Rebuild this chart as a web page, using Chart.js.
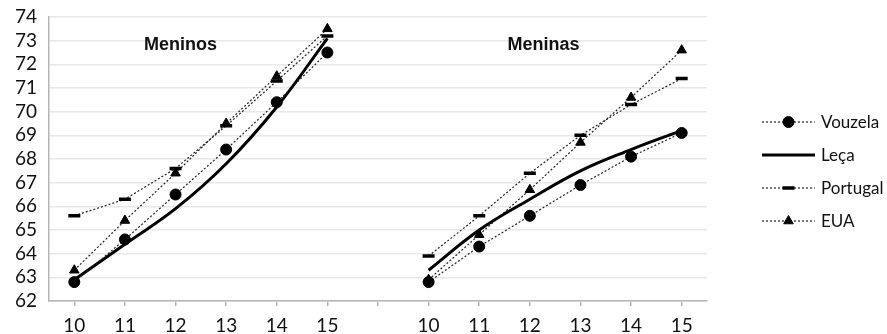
<!DOCTYPE html>
<html>
<head>
<meta charset="utf-8">
<script src="https://cdn.jsdelivr.net/npm/chart.js@4.4.1/dist/chart.umd.min.js"></script>
<style>
  html, body { margin: 0; padding: 0; background: #fff; }
  #wrap { width: 887px; height: 334px; }
</style>
</head>
<body>
<div id="wrap"><canvas id="myChart" width="887" height="334"></canvas></div>
<script>
(function () {
    "use strict";

    // idades (10 a 15) para meninos, um espaço vazio, e meninas
    var idades = ['10', '11', '12', '13', '14', '15', '', '10', '11', '12', '13', '14', '15'];

    var meninosVouzela = [62.8, 64.6, 66.5, 68.4, 70.4, 72.5];
    var meninosLeca = [62.9, 64.4, 65.9, 67.8, 70.2, 73.1];
    var meninosPortugal = [65.6, 66.3, 67.6, 69.4, 71.3, 73.2];
    var meninosEUA = [63.3, 65.4, 67.4, 69.5, 71.5, 73.5];

    var meninasVouzela = [62.8, 64.3, 65.6, 66.9, 68.1, 69.1];
    var meninasLeca = [63.3, 65.0, 66.3, 67.5, 68.4, 69.2];
    var meninasPortugal = [63.9, 65.6, 67.4, 69.0, 70.3, 71.4];
    var meninasEUA = [62.9, 64.8, 66.7, 68.7, 70.6, 72.6];

    var yTicks = [62, 63, 64, 65, 66, 67, 68, 69, 70, 71, 72, 73, 74];

    var grupos = ['Meninos', 'Meninas'];

    function juntar(a, b) {
        return a.concat([null], b);
    }

    var fonte = 'Lato, "Open Sans", sans-serif';

    // títulos dentro da área do gráfico
    var titulos = {
        id: 'titulos',
        afterDatasetsDraw: function (chart) {
            var ctx = chart.ctx;
            var x = chart.scales.x, y = chart.scales.y;
            ctx.save();
            ctx.font = 'bold 18px "Liberation Sans", Arial, sans-serif';
            ctx.fillStyle = '#111';
            ctx.textAlign = 'center';
            ctx.textBaseline = 'middle';
            ctx.fillText(grupos[0], x.getPixelForValue(2.1), y.getPixelForValue(72.82));
            ctx.fillText(grupos[1], x.getPixelForValue(9.27), y.getPixelForValue(72.82));
            ctx.restore();
        }
    };

    // legenda à direita: linha com o marcador ao meio
    var legenda = {
        id: 'legenda',
        afterDraw: function (chart) {
            var ctx = chart.ctx;
            var area = chart.chartArea;
            var x0 = area.right + 55, x1 = area.right + 108;
            var top = 122, step = 33;
            ctx.save();
            chart.data.datasets.forEach(function (ds, i) {
                var yy = top + i * step;
                ctx.beginPath();
                ctx.setLineDash(ds.borderDash || []);
                ctx.lineWidth = ds.borderWidth;
                ctx.strokeStyle = ds.borderColor;
                ctx.moveTo(x0, yy);
                ctx.lineTo(x1, yy);
                ctx.stroke();
                ctx.setLineDash([]);
                if (ds.pointRadius > 0) {
                    ctx.fillStyle = ds.pointBackgroundColor;
                    ctx.strokeStyle = ds.pointBorderColor;
                    ctx.lineWidth = ds.pointBorderWidth;
                    Chart.helpers.drawPoint(ctx, {
                        pointStyle: ds.pointStyle,
                        radius: ds.pointRadius,
                        rotation: 0,
                        borderWidth: ds.pointBorderWidth
                    }, (x0 + x1) / 2, yy);
                }
                ctx.font = '17px ' + fonte;
                ctx.fillStyle = '#111';
                ctx.textAlign = 'left';
                ctx.textBaseline = 'middle';
                ctx.fillText(ds.label, x1 + 6, yy + 1);
            });
            ctx.restore();
        }
    };

    var ctx = document.getElementById('myChart').getContext('2d');

    var myChart = new Chart(ctx, {
        type: 'line',
        data: {
            labels: idades,
            datasets: [{
                label: 'Vouzela',
                data: juntar(meninosVouzela, meninasVouzela),
                borderColor: '#222',
                borderWidth: 1.2,
                borderDash: [2, 2],
                pointStyle: 'circle',
                pointRadius: 5.5,
                pointBackgroundColor: '#000',
                pointBorderColor: '#000',
                pointBorderWidth: 1,
                tension: 0
            }, {
                label: 'Leça',
                data: juntar(meninosLeca, meninasLeca),
                borderColor: '#000',
                borderWidth: 3,
                pointRadius: 0,
                tension: 0.4
            }, {
                label: 'Portugal',
                data: juntar(meninosPortugal, meninasPortugal),
                borderColor: '#222',
                borderWidth: 1.2,
                borderDash: [2, 2],
                pointStyle: 'line',
                pointRadius: 6,
                pointBackgroundColor: '#000',
                pointBorderColor: '#000',
                pointBorderWidth: 3.5,
                tension: 0
            }, {
                label: 'EUA',
                data: juntar(meninosEUA, meninasEUA),
                borderColor: '#222',
                borderWidth: 1.2,
                borderDash: [2, 2],
                pointStyle: 'triangle',
                pointRadius: 5.5,
                pointBackgroundColor: '#000',
                pointBorderColor: '#000',
                pointBorderWidth: 1,
                tension: 0
            }]
        },
        options: {
            responsive: false,
            animation: false,
            spanGaps: false,
            layout: {
                padding: { top: 17, right: 180, left: 0, bottom: 0 }
            },
            plugins: {
                legend: { display: false },
                tooltip: { enabled: false }
            },
            scales: {
                x: {
                    offset: true,
                    afterFit: function (axis) {
                        axis.height = 33;
                    },
                    grid: {
                        drawOnChartArea: false,
                        drawTicks: true,
                        tickLength: 5,
                        color: '#b5b5b5',
                        lineWidth: 1.5
                    },
                    border: { color: '#b5b5b5', width: 1.5 },
                    ticks: {
                        padding: 8,
                        maxRotation: 0,
                        autoSkip: false,
                        color: '#111',
                        font: { family: fonte, size: 19 }
                    }
                },
                y: {
                    min: yTicks[0],
                    max: yTicks[yTicks.length - 1],
                    afterBuildTicks: function (axis) {
                        axis.ticks = yTicks.map(function (v) { return { value: v }; });
                    },
                    afterFit: function (axis) {
                        axis.width = 49;
                        axis.paddingTop = 0;
                        axis.paddingBottom = 0;
                    },
                    grid: {
                        drawTicks: false,
                        color: '#e8e8e8',
                        lineWidth: 1.5
                    },
                    border: { color: '#b5b5b5', width: 1.5 },
                    ticks: {
                        autoSkip: false,
                        padding: 12,
                        color: '#111',
                        font: { family: fonte, size: 19 }
                    }
                }
            }
        },
        plugins: [titulos, legenda]
    });
})();
</script>
</body>
</html>
